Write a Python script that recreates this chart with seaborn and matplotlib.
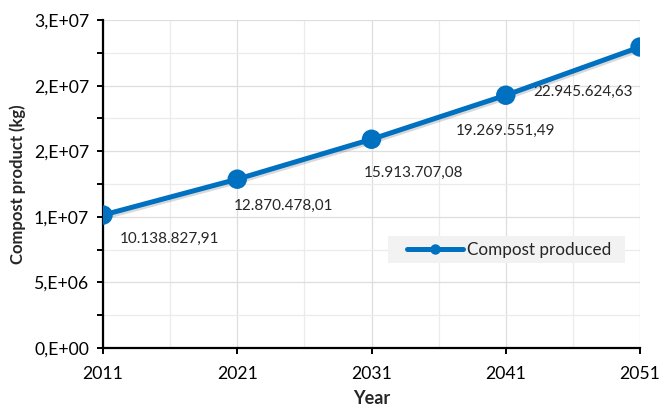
import math
import matplotlib
matplotlib.use("Agg")
import matplotlib.pyplot as plt
import matplotlib.patheffects as pe
from matplotlib.patches import Rectangle
from matplotlib.ticker import MultipleLocator, FuncFormatter
import pandas as pd
import seaborn as sns

# Projected compost production
years = [2011, 2021, 2031, 2041, 2051]
compost_kg = [10138827.91, 12870478.01, 15913707.08, 19269551.49, 22945624.63]
value_labels = ["10.138.827,91", "12.870.478,01", "15.913.707,08",
                "19.269.551,49", "22.945.624,63"]
series_name = "Compost produced"

df = pd.DataFrame({"Year": years, "Compost": compost_kg, "Series": series_name})

sns.set_theme(style="white")
plt.rcParams["font.family"] = ["Lato", "DejaVu Sans"]

BLUE = "#0070C0"

fig = plt.figure(figsize=(6.62, 4.09), dpi=100)
ax = fig.add_axes([0.1556, 0.149, 0.8112, 0.802])

sns.lineplot(data=df, x="Year", y="Compost", hue="Series", palette=[BLUE],
             marker="o", markersize=14, linewidth=3.6, markeredgewidth=0,
             ax=ax, zorder=5,
             path_effects=[pe.SimpleLineShadow(offset=(1, -1.5), alpha=0.15,
                                               shadow_color="black"),
                           pe.Normal()])

# Data labels placed beside each point (offsets in points)
offsets = [(48, -17), (33, -19), (30, -24), (0, -26), (-41, -32)]
for x, y, txt, off in zip(years, compost_kg, value_labels, offsets):
    ax.annotate(txt, (x, y), xytext=off, textcoords="offset points",
                ha="center", va="center", fontsize=11, color="#262626")

ax.set_xlim(2011, 2051)
ax.set_ylim(0, 2.5e7)
ax.xaxis.set_major_locator(MultipleLocator(10, offset=1))
ax.xaxis.set_minor_locator(MultipleLocator(5, offset=1))
ax.yaxis.set_major_locator(MultipleLocator(5e6))
ax.yaxis.set_minor_locator(MultipleLocator(2.5e6))


def excel_sci(v, pos):
    if v == 0:
        return "0,E+00"
    exp = int(math.floor(math.log10(abs(v))))
    mant = int(math.floor(v / 10 ** exp + 0.5))
    if mant >= 10:
        mant //= 10
        exp += 1
    return f"{mant},E+{exp:02d}"


ax.yaxis.set_major_formatter(FuncFormatter(excel_sci))

ax.grid(True, which="major", axis="both", color="#DEDEDE", linewidth=0.9)
ax.grid(True, which="minor", axis="both", color="#EBEBEB", linewidth=0.9)
ax.set_axisbelow(True)

for side in ("top", "right"):
    ax.spines[side].set_visible(False)
for side in ("left", "bottom"):
    ax.spines[side].set_color("black")
    ax.spines[side].set_linewidth(1.6)

ax.tick_params(axis="both", which="major", direction="out", length=4,
               width=1.4, color="black", labelsize=12.7, labelcolor="black",
               left=True, bottom=True)
ax.tick_params(axis="x", which="major", pad=9)
ax.tick_params(axis="y", which="major", pad=6)
ax.tick_params(axis="y", which="minor", direction="out", length=4,
               width=1.4, color="black", left=True)
ax.tick_params(axis="x", which="minor", length=0)

ax.set_xlabel("Year", fontsize=13, fontweight="bold", labelpad=6)
ax.set_ylabel("Compost product (kg)", fontsize=12, fontweight="bold",
              labelpad=6)

# Legend on a light grey panel
ax.add_patch(Rectangle((0.531, 0.259), 0.441, 0.082, transform=ax.transAxes,
                       facecolor="#F2F2F2", edgecolor="none", zorder=3))
leg = ax.legend(loc="center left", bbox_to_anchor=(0.566, 0.300),
                frameon=False, fontsize=12.3, handlelength=3.3,
                handletextpad=0.2, borderpad=0, borderaxespad=0)
leg.set_zorder(4)
for h in leg.legend_handles:
    h.set_path_effects([])
    h.set_markersize(7.5)

fig.savefig("out.png", dpi=100)
